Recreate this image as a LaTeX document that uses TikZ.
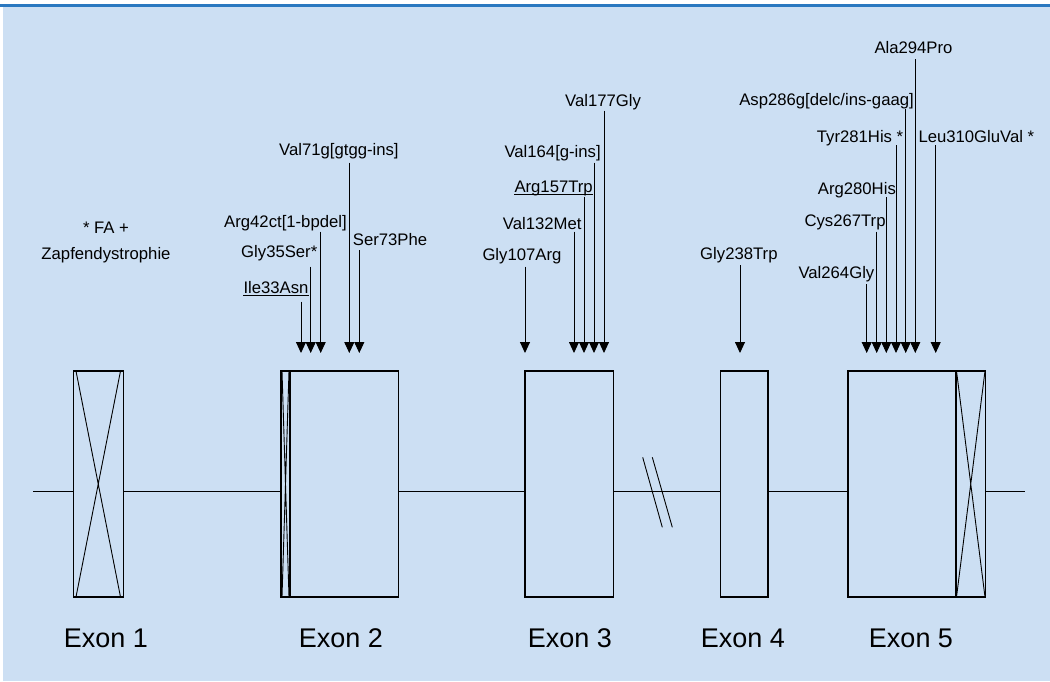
\documentclass[tikz,border=0pt]{standalone}
\usepackage{fontspec}
\setmainfont{Liberation Sans}
\usetikzlibrary{arrows.meta}
\definecolor{bgblue}{RGB}{204,223,243}
\definecolor{topline}{RGB}{42,120,192}
\begin{document}
\begin{tikzpicture}[x=1pt,y=-1pt,
  mut/.style={font=\fontsize{16.7}{20}\selectfont, inner sep=0pt},
  exlab/.style={font=\fontsize{27}{32}\selectfont, inner sep=0pt, anchor=base},
  exonbox/.style={draw=black, line width=1.1pt, fill=bgblue},
  cross/.style={draw=black, line width=0.9pt},
  axis/.style={draw=black, line width=0.9pt},
  mutarrow/.style={draw=black, line width=0.9pt, -{Triangle[width=10pt,length=11pt]}},
  uline/.style={draw=black, line width=0.9pt}]
\useasboundingbox (0,0) rectangle (1050,681);
\fill[bgblue] (3,7) rectangle (1050,681);
\draw[topline, line width=2.4pt] (0,5.5) -- (1050,5.5);

% axis
\coordinate (axL) at (33,491.5);
\coordinate (axR) at (1025,491.5);
\draw[axis] (axL) -- (axR);
% break marks
\coordinate (b1a) at (642.7,457.3); \coordinate (b1b) at (662.3,527.3);
\coordinate (b2a) at (652.3,457.3); \coordinate (b2b) at (672.3,527.3);
\draw[axis] (b1a) -- (b1b);
\draw[axis] (b2a) -- (b2b);

% exons
\draw[exonbox] (73.3,371) rectangle (123.3,597);
\draw[cross] (76,371) -- (120.5,597) (120.5,371) -- (76,597);
\draw[exonbox] (281,371) rectangle (398.3,597);
\draw[exonbox] (281,371) rectangle (290,597);
\draw[cross] (282,371) -- (289,597) (289,371) -- (282,597);
\draw[exonbox] (525,371) rectangle (613.7,597);
\draw[exonbox] (720.7,371) rectangle (768,597);
\draw[exonbox] (848,371) rectangle (985.7,597);
\draw[exonbox] (956,371) rectangle (985.7,597);
\draw[cross] (956.5,371) -- (985,597) (985,371) -- (956.5,597);

% exon labels
\node[exlab] (e1) at (106,647) {Exon 1};
\node[exlab] (e2) at (341,647) {Exon 2};
\node[exlab] (e3) at (570,647) {Exon 3};
\node[exlab] (e4) at (743,647) {Exon 4};
\node[exlab] (e5) at (911,647) {Exon 5};

% FA note
\node[mut, anchor=base] (fa1) at (106,233) {* FA +};
\node[mut, anchor=base] (fa2) at (106,259.5) {Zapfendystrophie};

% exon 2 mutations
\node[mut, anchor=base west] (m1) at (279,155) {Val71g[gtgg-ins]};
\node[mut, anchor=base west] (m2) at (224,227.5) {Arg42ct[1-bpdel]};
\node[mut, anchor=base west] (m3) at (241,257.5) {Gly35Ser*};
\node[mut, anchor=base west] (m4) at (243.3,293.5) {Ile33Asn};
\node[mut, anchor=base west] (m5) at (352.7,245) {Ser73Phe};
\draw[uline] ([yshift=-2pt]m4.base west) -- ([yshift=-2pt]m4.base east);

\coordinate (t4) at (301,301.7);   \coordinate (h4) at (301,353);
\coordinate (t3) at (310.7,266.7); \coordinate (h3) at (310.7,353);
\coordinate (t2) at (320.7,231.7); \coordinate (h2) at (320.7,353);
\coordinate (t1) at (349.3,162.7); \coordinate (h1) at (349.3,353);
\coordinate (t5) at (359.3,250);   \coordinate (h5) at (359.3,353);
\foreach \i in {1,...,5} {\draw[mutarrow] (t\i) -- (h\i);}

% exon 3 mutations
\node[mut, anchor=base west] (n1) at (565,106.5) {Val177Gly};
\node[mut, anchor=base west] (n2) at (504.3,157.5) {Val164[g-ins]};
\node[mut, anchor=base west] (n3) at (514.3,192.5) {Arg157Trp};
\node[mut, anchor=base west] (n4) at (502.7,229) {Val132Met};
\node[mut, anchor=base west] (n5) at (482.3,260.5) {Gly107Arg};
\draw[uline] ([yshift=-2pt]n3.base west) -- ([yshift=-2pt]n3.base east);

\coordinate (u1) at (604,110.7);  \coordinate (k1) at (604,353);
\coordinate (u2) at (594,162.7);  \coordinate (k2) at (594,353);
\coordinate (u3) at (584,196.7);  \coordinate (k3) at (584,353);
\coordinate (u4) at (574,231.7);  \coordinate (k4) at (574,353);
\coordinate (u5) at (525,266.7);  \coordinate (k5) at (525,353);
\foreach \i in {1,...,5} {\draw[mutarrow] (u\i) -- (k\i);}

% exon 4 mutation
\node[mut, anchor=base west] (p1) at (700,259) {Gly238Trp};
\coordinate (v1) at (740,265); \coordinate (w1) at (740,353);
\draw[mutarrow] (v1) -- (w1);

% exon 5 mutations
\node[mut, anchor=base west] (q1) at (874.3,53) {Ala294Pro};
\node[mut, anchor=base east] (q2) at (914,105) {Asp286g[delc/ins-gaag]};
\node[mut, anchor=base west] (q3) at (816.7,142) {Tyr281His *};
\node[mut, anchor=base west] (q4) at (918.3,142) {Leu310GluVal *};
\node[mut, anchor=base west] (q5) at (817.7,194) {Arg280His};
\node[mut, anchor=base west] (q6) at (804.3,226.5) {Cys267Trp};
\node[mut, anchor=base west] (q7) at (798.3,278.5) {Val264Gly};

\coordinate (r1) at (915.3,59.3);  \coordinate (s1) at (915.3,353);
\coordinate (r2) at (905.7,109.3); \coordinate (s2) at (905.7,353);
\coordinate (r3) at (896,145);     \coordinate (s3) at (896,353);
\coordinate (r4) at (935.7,145);   \coordinate (s4) at (935.7,353);
\coordinate (r5) at (886.3,197.3); \coordinate (s5) at (886.3,353);
\coordinate (r6) at (876.7,231.7); \coordinate (s6) at (876.7,353);
\coordinate (r7) at (866.7,284);   \coordinate (s7) at (866.7,353);
\foreach \i in {1,...,7} {\draw[mutarrow] (r\i) -- (s\i);}
\end{tikzpicture}
\end{document}
